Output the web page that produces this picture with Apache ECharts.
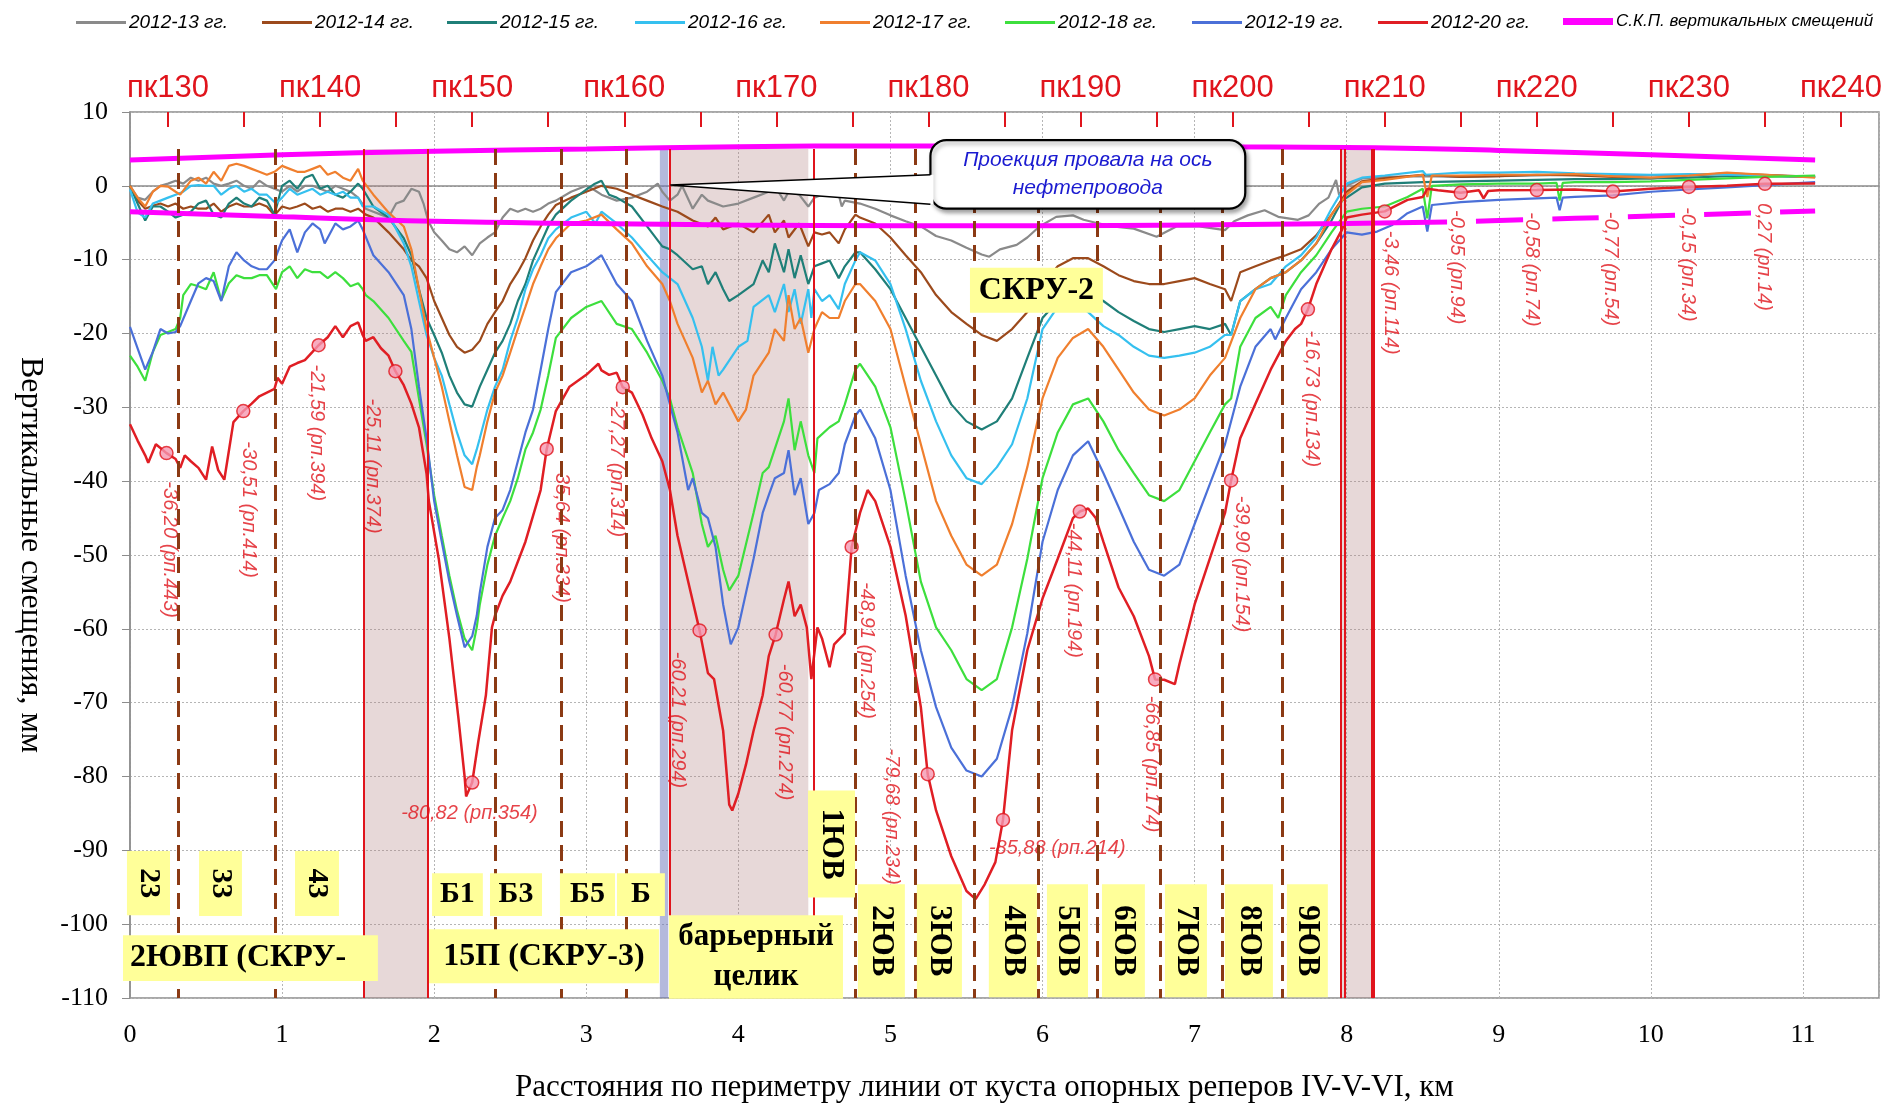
<!DOCTYPE html>
<html>
<head>
<meta charset="utf-8">
<script src="https://cdn.jsdelivr.net/npm/echarts@6/dist/echarts.min.js"></script>
<style>
  html, body { margin: 0; padding: 0; background: #ffffff; }
  #chart { width: 1896px; height: 1108px; }
</style>
</head>
<body>
<div id="chart"></div>
<script>
// ---------- survey data: distance along the line (km) / vertical displacement (mm) ----------
const s2013 = [[0,0],[0.05,-1.6],[0.1,-1.9],[0.15,-0.8],[0.2,0],[0.25,0.3],[0.3,0.7],[0.35,0.3],[0.4,1.1],[0.45,0.7],[0.5,1.1],[0.55,0.3],[0.6,0],[0.65,0.3],[0.7,0.7],[0.75,0],[0.8,-0.4],[0.85,0.7],[0.9,0],[0.95,-0.4],[1,-0.8],[1.05,0],[1.1,-0.8],[1.15,0],[1.2,0],[1.25,-0.4],[1.3,-0.8],[1.35,0],[1.4,-0.4],[1.45,-0.8],[1.5,-1.6],[1.55,-3.1],[1.6,-3.5],[1.65,-3.9],[1.7,-4.3],[1.75,-2.4],[1.8,-2],[1.85,-0.4],[1.9,-0.8],[1.93,-2.4],[1.96,-4.7],[2,-6.3],[2.05,-7.4],[2.1,-8.6],[2.15,-9],[2.2,-8.2],[2.25,-9.4],[2.3,-7.8],[2.35,-7],[2.4,-6.3],[2.45,-4.3],[2.5,-3.1],[2.55,-3.5],[2.6,-3.1],[2.65,-3.5],[2.7,-3.1],[2.75,-2.4],[2.8,-2],[2.9,-0.8],[3,0],[3.04,-0.4],[3.1,-1.2],[3.2,-2],[3.3,-1.6],[3.4,-0.8],[3.47,0.3],[3.5,-0.8],[3.55,-2],[3.6,-1.2],[3.63,0],[3.7,-3.1],[3.76,-1.2],[3.8,-2],[3.9,-2.8],[4,-2.4],[4.1,-1.6],[4.2,-0.8],[4.24,0],[4.3,-2],[4.33,-0.8],[4.4,-1.2],[4.46,-2.8],[4.5,-1.6],[4.6,-0.8],[4.66,-1.2],[4.68,-2.8],[4.7,-2],[4.8,-2.4],[4.9,-3.1],[5,-4],[5.1,-4.8],[5.2,-5.5],[5.3,-6.8],[5.4,-7.4],[5.5,-8.4],[5.6,-9.3],[5.65,-9.6],[5.72,-8.6],[5.83,-8],[5.9,-7],[5.98,-5.5],[6.09,-4.2],[6.2,-4],[6.27,-4.6],[6.35,-5],[6.46,-5.5],[6.6,-5.8],[6.75,-6.9],[6.88,-5.5],[7.03,-5.5],[7.2,-6],[7.26,-4.8],[7.35,-4],[7.46,-3.3],[7.55,-4.2],[7.68,-4.6],[7.75,-4],[7.82,-2.4],[7.88,-1.6],[7.93,0.8],[7.95,-1.2],[8,0],[8.1,1],[8.25,1.2],[8.5,1.3],[8.75,1.2],[9,1.3],[9.25,1.4],[9.5,1.5],[9.75,1.3],[10,1.4],[10.25,1.5],[10.5,1.6],[10.75,1.4],[11.08,1.2]];

const s2014 = [[0,0],[0.05,-2],[0.1,-3.1],[0.15,-2.7],[0.2,-2.4],[0.25,-2.8],[0.3,-2.4],[0.35,-3.1],[0.4,-2.8],[0.45,-3.1],[0.5,-3.1],[0.55,-2.4],[0.6,-3.5],[0.65,-2.8],[0.7,-2.4],[0.75,-2.8],[0.8,-2.8],[0.85,-2.4],[0.9,-2.8],[0.95,-4],[1,-2.8],[1.05,-3.1],[1.1,-2.8],[1.15,-2.4],[1.2,-3.1],[1.25,-2.8],[1.3,-3.5],[1.35,-3.1],[1.4,-3.1],[1.45,-3.5],[1.5,-3.1],[1.55,-3.9],[1.6,-4.3],[1.7,-6.3],[1.8,-8.6],[1.85,-10.1],[1.9,-10.9],[1.95,-12.5],[2,-15.6],[2.05,-17.9],[2.1,-20.2],[2.15,-21.8],[2.2,-22.6],[2.25,-22.2],[2.3,-21],[2.35,-18.7],[2.4,-17.1],[2.45,-15.6],[2.5,-13.3],[2.55,-11.7],[2.6,-9.8],[2.65,-7.4],[2.7,-5.5],[2.75,-3.9],[2.8,-2.6],[2.9,-1.6],[3,-0.8],[3.1,0],[3.2,-0.4],[3.3,-1.2],[3.4,-2],[3.5,-2.8],[3.6,-3.5],[3.7,-4.7],[3.8,-5.5],[3.85,-4.3],[3.9,-5.9],[4,-5.1],[4.1,-6.3],[4.2,-3.9],[4.24,-6.3],[4.3,-4.7],[4.33,-7],[4.4,-5.1],[4.46,-8.2],[4.5,-6.3],[4.55,-6.6],[4.6,-6.3],[4.66,-7.8],[4.7,-5.9],[4.77,-3.9],[4.8,-4.3],[4.9,-5.1],[5,-7],[5.1,-9.4],[5.2,-11.7],[5.3,-14.8],[5.4,-17.1],[5.5,-18.7],[5.6,-20.2],[5.7,-21],[5.8,-19.4],[5.9,-17.1],[6,-13.3],[6.1,-10.9],[6.2,-9.8],[6.3,-9.8],[6.4,-10.9],[6.5,-12.1],[6.6,-12.9],[6.7,-13.3],[6.8,-13.3],[6.9,-12.9],[7,-12.5],[7.1,-13.3],[7.2,-14],[7.24,-15.6],[7.3,-11.7],[7.4,-10.9],[7.5,-10.1],[7.6,-9.4],[7.7,-8.6],[7.8,-6.7],[7.9,-3.9],[7.95,-2.4],[8,-0.8],[8.1,0.6],[8.25,1],[8.5,1.5],[8.75,1.2],[9,1.3],[9.25,1.5],[9.5,1.4],[9.75,1.2],[10,1],[10.25,1.4],[10.5,1.7],[10.75,1.5],[11.08,1.2]];

const s2015 = [[0,0],[0.05,-2.4],[0.1,-4.7],[0.15,-2.8],[0.2,-2.8],[0.25,-3.5],[0.3,-4.3],[0.35,-3.9],[0.4,-3.5],[0.45,-2.4],[0.5,-2],[0.55,-3.9],[0.6,-4.3],[0.65,-2.4],[0.7,-1.6],[0.75,-2.4],[0.8,-2.8],[0.85,-1.6],[0.9,-2],[0.95,-3.9],[1,0],[1.05,0.7],[1.1,-0.4],[1.15,1.1],[1.2,1.5],[1.25,-0.4],[1.3,0],[1.35,-1.2],[1.4,-1.6],[1.45,-0.8],[1.5,0.3],[1.53,-0.4],[1.6,-2.8],[1.7,-4.3],[1.8,-7.1],[1.85,-9.4],[1.9,-14],[1.95,-17.9],[2,-20.2],[2.05,-22.6],[2.1,-25.7],[2.15,-28],[2.2,-29.6],[2.25,-29.9],[2.3,-27.2],[2.35,-24.9],[2.4,-22.6],[2.45,-21],[2.5,-18.7],[2.55,-15.6],[2.6,-13.3],[2.65,-10.1],[2.7,-7.8],[2.75,-5.5],[2.8,-3.9],[2.9,-2],[3,-0.5],[3.05,0.2],[3.1,0.7],[3.15,-1.2],[3.2,-1.6],[3.3,-2.8],[3.4,-5.5],[3.5,-8.2],[3.55,-8.6],[3.6,-9.4],[3.7,-11.3],[3.76,-10.9],[3.8,-13.3],[3.85,-11.7],[3.9,-14],[3.94,-15.6],[4,-14.8],[4.1,-13.3],[4.16,-10.1],[4.2,-11.7],[4.24,-7.8],[4.3,-11.7],[4.33,-8.6],[4.37,-12.5],[4.41,-9.4],[4.46,-13.3],[4.5,-10.9],[4.55,-10.5],[4.6,-10.1],[4.66,-12.5],[4.7,-10.9],[4.77,-9],[4.8,-9],[4.9,-11.3],[5,-14],[5.1,-17.9],[5.2,-21.8],[5.3,-25.7],[5.4,-29.6],[5.5,-31.9],[5.6,-33],[5.7,-31.9],[5.8,-28.8],[5.9,-23.3],[6,-17.9],[6.1,-15.6],[6.2,-14.8],[6.3,-14.4],[6.4,-15.6],[6.5,-17.1],[6.6,-18.3],[6.7,-19.4],[6.8,-19.8],[6.9,-19.4],[7,-19],[7.1,-19.4],[7.2,-18.7],[7.24,-20.2],[7.3,-15.6],[7.4,-14],[7.5,-12.5],[7.6,-11.7],[7.7,-10.1],[7.8,-7.8],[7.9,-4.7],[7.97,-2],[8,-1.6],[8.1,-0.2],[8.25,0.3],[8.5,0.5],[8.75,0.6],[9,0.7],[9.25,0.8],[9.5,0.9],[9.75,0.9],[10,1],[10.25,1.1],[10.5,1.3],[10.75,1.3],[11.08,1.2]];

const s2016 = [[0,-0.5],[0.05,-3.6],[0.1,-4.3],[0.15,-2.4],[0.2,-2],[0.25,-1.6],[0.3,-1.2],[0.35,-0.8],[0.4,0],[0.45,0.1],[0.5,0],[0.55,0],[0.6,-1.2],[0.65,-0.4],[0.7,0],[0.75,-0.8],[0.8,-0.4],[0.85,-1.2],[0.9,-1.2],[0.96,-2.4],[1,-1.6],[1.05,-0.4],[1.1,-1.2],[1.15,-0.8],[1.2,-0.4],[1.25,-1.2],[1.3,-0.8],[1.35,-1.2],[1.4,-0.8],[1.45,-1.6],[1.5,-1.6],[1.53,-2.8],[1.6,-2.8],[1.7,-3.9],[1.8,-7.8],[1.85,-10.9],[1.9,-15.6],[1.95,-20.2],[2,-23.3],[2.05,-25.7],[2.1,-29.6],[2.15,-33.4],[2.2,-36.5],[2.25,-37.7],[2.28,-35.7],[2.3,-34.2],[2.35,-30.3],[2.4,-27.2],[2.45,-24.9],[2.5,-21],[2.55,-17.9],[2.6,-14],[2.65,-11.3],[2.7,-9.4],[2.75,-7.1],[2.8,-5.9],[2.9,-4.3],[3,-3.5],[3.06,-5.1],[3.1,-3.5],[3.2,-5.1],[3.3,-7],[3.4,-9.4],[3.5,-11.7],[3.6,-13.3],[3.7,-17.9],[3.76,-21.8],[3.8,-26.4],[3.83,-21.8],[3.87,-25.7],[3.9,-24.9],[4,-21.8],[4.06,-21],[4.1,-16.4],[4.2,-14.8],[4.24,-17.1],[4.3,-13.3],[4.33,-17.1],[4.37,-14],[4.41,-18.7],[4.46,-14],[4.48,-17.9],[4.5,-14],[4.55,-15.6],[4.6,-14.8],[4.66,-16.7],[4.7,-13.3],[4.77,-10.1],[4.8,-9],[4.9,-10.1],[5,-13.3],[5.1,-19.4],[5.2,-26.4],[5.3,-31.9],[5.4,-36.5],[5.5,-39.6],[5.6,-40.4],[5.7,-38.1],[5.8,-35],[5.9,-28.8],[6,-19.4],[6.1,-16.4],[6.2,-15.6],[6.3,-17.1],[6.4,-19],[6.5,-20.2],[6.6,-21.8],[6.7,-23],[6.8,-23.3],[6.9,-23],[7,-22.6],[7.1,-21.8],[7.2,-20.2],[7.24,-20.2],[7.3,-15.6],[7.4,-14],[7.5,-13.3],[7.6,-10.9],[7.7,-9.4],[7.8,-7],[7.9,-3.1],[8,0.3],[8.1,1.1],[8.25,1.4],[8.5,2],[8.52,1.5],[8.75,1.8],[9,1.8],[9.25,1.9],[9.5,1.7],[9.75,1.6],[10,1.5],[10.25,1.6],[10.5,1.5],[10.75,1.4],[11.08,1.2]];

const s2017 = [[0,0],[0.05,-1.6],[0.1,-2.8],[0.15,-0.8],[0.2,0],[0.25,-0.1],[0.3,-0.8],[0.33,-1.2],[0.4,0.7],[0.45,1.1],[0.5,0.3],[0.55,1.9],[0.6,0.7],[0.65,2.7],[0.7,3],[0.75,2.7],[0.8,2.3],[0.85,1.9],[0.9,1.5],[0.95,1.9],[1,2.7],[1.05,2.3],[1.1,1.9],[1.15,1.9],[1.2,2.3],[1.25,2.7],[1.3,1.5],[1.35,1.9],[1.4,1.1],[1.45,0.7],[1.5,2.3],[1.53,0.7],[1.6,-1.2],[1.7,-3.6],[1.8,-5.5],[1.85,-8.6],[1.9,-14],[1.95,-19.4],[2,-23.3],[2.05,-27.2],[2.1,-31.9],[2.15,-36.5],[2.2,-40.8],[2.25,-41.2],[2.28,-38.1],[2.3,-36.5],[2.35,-31.9],[2.4,-28],[2.45,-25.7],[2.5,-22.6],[2.55,-19.4],[2.6,-16.4],[2.65,-13.3],[2.7,-10.9],[2.75,-8.6],[2.8,-7.1],[2.9,-5.1],[3,-4.7],[3.1,-3.9],[3.2,-5.9],[3.3,-7.8],[3.4,-10.9],[3.5,-13.3],[3.55,-15.6],[3.6,-18.7],[3.7,-23.3],[3.76,-28],[3.8,-26.4],[3.85,-29.6],[3.9,-28],[4,-31.9],[4.05,-30.3],[4.1,-25.7],[4.2,-22.6],[4.24,-19.4],[4.3,-21],[4.33,-14.8],[4.37,-19.4],[4.41,-17.9],[4.46,-22.6],[4.5,-19.4],[4.55,-17.1],[4.6,-17.9],[4.66,-17.9],[4.7,-15.6],[4.77,-13.3],[4.8,-13.3],[4.9,-15.6],[5,-19.4],[5.1,-27.2],[5.2,-35],[5.3,-42.7],[5.4,-47.4],[5.5,-51.3],[5.6,-52.8],[5.7,-51.3],[5.8,-45.8],[5.9,-38.1],[6,-28.8],[6.1,-23.3],[6.2,-20.6],[6.3,-19.4],[6.4,-21.8],[6.5,-24.9],[6.6,-28],[6.7,-30.3],[6.8,-31.1],[6.9,-30.3],[7,-28.8],[7.1,-25.7],[7.2,-23.3],[7.3,-17.9],[7.4,-14],[7.5,-12.5],[7.6,-11.7],[7.7,-10.1],[7.8,-7.8],[7.9,-3.9],[8,-1.2],[8.1,0.5],[8.25,0.8],[8.5,1.5],[8.53,-1.5],[8.56,1.4],[8.75,1.4],[9,1.5],[9.25,1.5],[9.5,1.6],[9.75,1.3],[10,1.1],[10.25,1.4],[10.5,1.8],[10.75,1.5],[11.08,1.1]];

const s2018 = [[0,-23],[0.05,-24.5],[0.1,-26.4],[0.15,-22.5],[0.2,-20.2],[0.25,-19.8],[0.3,-19.4],[0.33,-17.9],[0.35,-14.8],[0.4,-13.3],[0.45,-13.6],[0.5,-14],[0.55,-11.7],[0.6,-15.5],[0.65,-13.2],[0.7,-12.1],[0.75,-12.5],[0.8,-12.5],[0.85,-12.1],[0.9,-12.1],[0.96,-14],[1,-11.7],[1.05,-10.9],[1.1,-12.5],[1.15,-11.3],[1.2,-11.7],[1.25,-11.7],[1.3,-12.5],[1.35,-11.7],[1.4,-12.5],[1.45,-13.6],[1.5,-13.2],[1.53,-14],[1.55,-14.8],[1.6,-15.6],[1.7,-17.9],[1.8,-21],[1.85,-22.5],[1.9,-28.8],[1.95,-35],[2,-41.9],[2.05,-47.4],[2.1,-52.8],[2.15,-57.5],[2.2,-61.3],[2.25,-62.9],[2.28,-59.8],[2.3,-56.7],[2.35,-51.3],[2.4,-47.4],[2.45,-45],[2.5,-42.7],[2.55,-39.6],[2.6,-35.7],[2.65,-33.4],[2.7,-30.3],[2.75,-25.7],[2.8,-20.6],[2.9,-17.9],[3,-16.4],[3.1,-15.6],[3.2,-18.7],[3.3,-19.4],[3.4,-22.6],[3.5,-26.4],[3.55,-28.8],[3.6,-32.7],[3.7,-38.9],[3.76,-45.8],[3.8,-48.9],[3.85,-47.4],[3.9,-52],[3.94,-54.8],[4,-52.8],[4.1,-44.3],[4.16,-38.9],[4.2,-38.1],[4.3,-31.9],[4.33,-28.8],[4.37,-35.8],[4.41,-31.9],[4.46,-36.5],[4.5,-38.9],[4.52,-34.2],[4.6,-32.7],[4.66,-31.9],[4.7,-29.6],[4.77,-24.9],[4.8,-24.1],[4.9,-27.2],[5,-32.7],[5.1,-42.7],[5.2,-53.6],[5.3,-59.8],[5.4,-62.9],[5.5,-66.8],[5.6,-68.3],[5.7,-66.8],[5.8,-59.8],[5.9,-50.5],[6,-39.6],[6.1,-33.4],[6.2,-29.6],[6.3,-28.8],[6.4,-31.9],[6.5,-35.8],[6.6,-38.9],[6.7,-41.9],[6.8,-42.7],[6.9,-41.2],[7,-37.3],[7.1,-33.4],[7.2,-29.6],[7.24,-28.8],[7.3,-21.8],[7.4,-17.9],[7.5,-16.4],[7.55,-17.9],[7.6,-14.8],[7.7,-11.7],[7.8,-9.4],[7.9,-6.3],[8,-3.5],[8.1,-3.1],[8.25,-2.8],[8.4,-1.5],[8.5,-0.4],[8.53,-4.4],[8.56,0],[8.75,0.2],[9,0.3],[9.25,0.3],[9.38,0.4],[9.4,-2],[9.42,0.4],[9.5,0.5],[9.75,0.5],[10,0.6],[10.25,0.8],[10.5,1],[10.75,1.2],[11.08,1.4]];

const s2019 = [[0,-19.1],[0.05,-22],[0.1,-24.9],[0.15,-22.5],[0.2,-19.4],[0.25,-20],[0.3,-19.8],[0.33,-19],[0.4,-15.6],[0.45,-13.2],[0.5,-12.5],[0.55,-12.9],[0.6,-15.6],[0.65,-10.9],[0.7,-9],[0.75,-10.1],[0.8,-10.9],[0.85,-11.3],[0.9,-11.3],[0.95,-10.1],[1,-7.4],[1.05,-5.9],[1.1,-9],[1.15,-6.3],[1.2,-5.1],[1.25,-5.9],[1.28,-7.8],[1.35,-5.1],[1.4,-5.9],[1.45,-5.5],[1.5,-4.7],[1.53,-5.9],[1.6,-9.4],[1.7,-11.7],[1.8,-14.8],[1.85,-19.4],[1.9,-27.2],[1.95,-34.2],[2,-42.7],[2.05,-48.2],[2.1,-53.6],[2.15,-58.2],[2.2,-62.5],[2.25,-61],[2.28,-58.2],[2.3,-55.1],[2.35,-48.9],[2.4,-45],[2.45,-43.9],[2.5,-41.2],[2.55,-37.3],[2.6,-33.4],[2.65,-30.3],[2.7,-24.9],[2.75,-19.4],[2.8,-14.4],[2.9,-11.7],[3,-10.9],[3.1,-9.4],[3.2,-13.3],[3.3,-15.6],[3.4,-21],[3.5,-25.7],[3.55,-29.6],[3.6,-33.4],[3.67,-41.2],[3.7,-39.6],[3.76,-44.3],[3.8,-45],[3.85,-48.9],[3.9,-56.7],[3.95,-62.1],[4,-59.8],[4.1,-50.5],[4.16,-44.3],[4.2,-41.9],[4.24,-39.6],[4.3,-38.9],[4.33,-35.8],[4.37,-41.9],[4.41,-39.6],[4.46,-45.8],[4.5,-44.3],[4.53,-41.2],[4.6,-40.4],[4.66,-38.9],[4.7,-35],[4.77,-31.1],[4.8,-30.3],[4.9,-34.2],[5,-41.2],[5.1,-52.8],[5.2,-62.9],[5.3,-70.6],[5.4,-76.1],[5.5,-79.2],[5.6,-80],[5.7,-77.6],[5.8,-70.6],[5.9,-60.6],[6,-48.2],[6.1,-41.2],[6.2,-36.5],[6.3,-34.6],[6.4,-38.9],[6.5,-43.5],[6.6,-48.2],[6.7,-52],[6.8,-52.8],[6.9,-51.3],[7,-45.8],[7.1,-40.4],[7.2,-35],[7.3,-27.2],[7.4,-21.8],[7.5,-19.4],[7.53,-20.8],[7.6,-17.9],[7.7,-14],[7.8,-11.7],[7.9,-8.6],[8,-6.3],[8.1,-6.6],[8.2,-6.2],[8.3,-5.3],[8.4,-3.7],[8.5,-2.8],[8.53,-6.2],[8.56,-2.6],[8.75,-2.2],[9,-1.9],[9.25,-1.7],[9.38,-1.6],[9.4,-3.3],[9.42,-1.6],[9.5,-1.5],[9.75,-1.3],[10,-0.8],[10.25,-0.5],[10.5,-0.2],[10.75,0.1],[11.08,0.5]];

const s2020 = [[0,-32.3],[0.05,-34.5],[0.1,-36.5],[0.12,-37.5],[0.17,-35],[0.2,-35.5],[0.24,-36.2],[0.3,-37],[0.33,-38.2],[0.36,-36.5],[0.4,-37.3],[0.45,-38.2],[0.5,-39.8],[0.54,-35.3],[0.58,-38.5],[0.62,-39.8],[0.68,-32],[0.745,-30.51],[0.8,-29.5],[0.85,-28.5],[0.9,-28],[0.95,-27.5],[0.97,-26],[1,-26.8],[1.05,-24.5],[1.1,-24],[1.15,-23.6],[1.2,-22.5],[1.24,-21.59],[1.3,-20.5],[1.35,-19],[1.4,-20.5],[1.45,-19],[1.5,-18.5],[1.53,-20.2],[1.55,-21],[1.6,-20.5],[1.65,-22],[1.7,-23],[1.745,-25.11],[1.8,-27],[1.85,-29.5],[1.9,-32.7],[1.95,-39],[1.965,-42.7],[2.03,-50.5],[2.1,-61.3],[2.16,-72.2],[2.2,-80],[2.21,-82.7],[2.25,-80.82],[2.29,-75.3],[2.34,-69],[2.38,-59.8],[2.4,-58.2],[2.45,-55.5],[2.5,-53.6],[2.6,-48.2],[2.7,-41.2],[2.74,-35.64],[2.8,-30.5],[2.89,-27.2],[3,-25.6],[3.08,-24.1],[3.1,-25],[3.15,-25.6],[3.2,-25.3],[3.24,-27.27],[3.3,-28],[3.37,-31],[3.43,-34.2],[3.5,-37.3],[3.55,-41.2],[3.6,-47.4],[3.67,-53.6],[3.745,-60.21],[3.8,-66],[3.84,-66.8],[3.9,-73.8],[3.94,-83.8],[3.96,-84.6],[4,-82.3],[4.05,-78.4],[4.1,-73.8],[4.16,-69],[4.2,-63.7],[4.245,-60.77],[4.3,-56],[4.33,-53.6],[4.37,-58.3],[4.41,-56.7],[4.45,-59.8],[4.48,-66.8],[4.49,-65],[4.52,-59.8],[4.55,-61.3],[4.6,-65.2],[4.63,-62.1],[4.7,-60.6],[4.745,-48.91],[4.8,-44.3],[4.85,-41.2],[4.9,-42.7],[5,-48.9],[5.1,-58.2],[5.2,-70.6],[5.245,-79.68],[5.3,-84.6],[5.4,-90.8],[5.5,-95.5],[5.56,-96.6],[5.62,-94.6],[5.69,-91.6],[5.74,-85.88],[5.8,-73.7],[5.9,-62.9],[6,-55.9],[6.1,-50.5],[6.2,-45],[6.245,-44.11],[6.3,-43.7],[6.35,-45],[6.4,-48.2],[6.5,-54.4],[6.6,-58.3],[6.7,-63.7],[6.74,-66.85],[6.8,-66.9],[6.87,-67.5],[6.9,-64.8],[7,-56.7],[7.1,-50.5],[7.2,-44.3],[7.24,-39.9],[7.3,-34.2],[7.4,-29.5],[7.5,-24.9],[7.6,-21],[7.66,-19.4],[7.7,-18.7],[7.745,-16.73],[7.8,-13.3],[7.9,-8.6],[7.97,-5.9],[8,-4.3],[8.1,-3.9],[8.25,-3.46],[8.4,-1.9],[8.5,-1.5],[8.53,-0.4],[8.6,-0.6],[8.75,-0.95],[8.87,-0.6],[8.9,-1.7],[8.93,-0.7],[9,-0.6],[9.25,-0.58],[9.5,-0.5],[9.75,-0.77],[10,-0.4],[10.25,-0.15],[10.5,0],[10.75,0.27],[11.08,0.3]];

// standard error band of vertical displacements (upper / lower bounds)
const skpUpper = [[0,3.5],[1,4.2],[2,4.7],[3,5],[4,5.3],[5,5.4],[6,5.4],[7,5.3],[8,5.2],[9,4.8],[10,4.2],[11.08,3.5]];
const skpLowerSolid = [[0,-3.5],[1,-4.2],[2,-4.8],[3,-5.1],[4,-5.3],[5,-5.4],[6,-5.4],[7,-5.3],[8,-5.1],[8.66,-4.9]];
const skpLowerDashed = [[8.66,-4.9],[9,-4.7],[10,-4.1],[11.08,-3.4]];

// benchmarks on the 2012-20 profile
const benchX = [0.24,0.745,1.24,1.745,2.25,2.74,3.24,3.745,4.245,4.745,5.245,5.74,6.245,6.74,7.24,7.745,8.25,8.75,9.25,9.75,10.25,10.75];
const benchVal = [-36.20,-30.51,-21.59,-25.11,-80.82,-35.64,-27.27,-60.21,-60.77,-48.91,-79.68,-85.88,-44.11,-66.85,-39.90,-16.73,-3.46,-0.95,-0.58,-0.77,-0.15,0.27];
const benchNo = [443,414,394,374,354,334,314,294,274,254,234,214,194,174,154,134,114,94,74,54,34,14];

// picket scale along the top edge
const pkTicks = [130,135,140,145,150,155,160,165,170,175,180,185,190,195,200,205,210,215,220,225,230,235,240];
const pkLabels = [130,140,150,160,170,180,190,200,210,220,230,240];
const kmLabels = [0,1,2,3,4,5,6,7,8,9,10,11];

const yearNames = ['2012-13 гг.','2012-14 гг.','2012-15 гг.','2012-16 гг.','2012-17 гг.','2012-18 гг.','2012-19 гг.','2012-20 гг.'];
const skpName = 'С.К.П. вертикальных смещений';

// ---------- layout & styling ----------
const yearSeries = [s2013, s2014, s2015, s2016, s2017, s2018, s2019, s2020];
const yearColors = ['#8a8a8a','#9c4a1c','#1f7f78','#35c0ef','#f07f2e','#3ddf3d','#4b70d8','#e01e24'];
const legendLeft = [71, 257, 442, 630, 815, 1000, 1187, 1373, 1558];

// label offsets around each benchmark marker: [dx, dy, rotated]
const benchLabelShift = [[4,29,1],[6,31,1],[-1,20,1],[-22,28,1],[-2,32,0],[16,18,1],[-5,14,1],[-21,22,1],[10,30,1],[16,36,1],[-35,-25,1],[55,29,0],[-5,12,1],[-3,17,1],[11,16,1],[4,22,1],[7,20,1],[-3,18,1],[-4,23,1],[-2,21,1],[-1,21,1],[-1,20,1]];

// mine workings / zones along the route
const shadeSpans = [[1.534,1.961],[3.55,4.46],[7.962,8.17]];
const blueSpan = [[3.484,3.539]];
const redLinesX = [1.534,1.961,3.55,4.497,7.962,7.984,8.164,8.175];
const dashLinesX = [0.318,0.953,2.40,2.838,3.261,4.767,5.161,5.551,5.972,6.362,6.772,7.181,7.578];

const boxes = [
  {t:'23', x0:-0.02, x1:0.263, y0:-90.1, y1:-98.8, v:true, fs:30},
  {t:'33', x0:0.454, x1:0.736, y0:-90.1, y1:-98.9, v:true, fs:30},
  {t:'43', x0:1.085, x1:1.374, y0:-90.1, y1:-98.9, v:true, fs:30},
  {t:'2ЮВП (СКРУ-', x0:-0.046, x1:1.63, y0:-101.5, y1:-107.7, left:true, fs:32},
  {t:'Б1', x0:1.986, x1:2.32, y0:-93.1, y1:-98.9, fs:30},
  {t:'Б3', x0:2.367, x1:2.709, y0:-93.1, y1:-98.9, fs:30},
  {t:'Б5', x0:2.827, x1:3.189, y0:-93.1, y1:-98.9, fs:30},
  {t:'Б', x0:3.202, x1:3.517, y0:-93.1, y1:-98.9, fs:30},
  {t:'15П (СКРУ-3)', x0:1.966, x1:3.478, y0:-100.7, y1:-108.0, fs:32},
  {t:'барьерный\nцелик', x0:3.544, x1:4.688, y0:-98.8, y1:-110.1, fs:31, lh:40},
  {t:'1ЮВ', x0:4.458, x1:4.767, y0:-81.9, y1:-96.4, v:true, fs:31},
  {t:'2ЮВ', x0:4.786, x1:5.095, y0:-94.6, y1:-109.9, v:true, fs:31},
  {t:'3ЮВ', x0:5.174, x1:5.47, y0:-94.6, y1:-109.9, v:true, fs:31},
  {t:'4ЮВ', x0:5.647, x1:5.963, y0:-94.6, y1:-109.9, v:true, fs:31},
  {t:'5ЮВ', x0:6.029, x1:6.299, y0:-94.6, y1:-109.9, v:true, fs:31},
  {t:'6ЮВ', x0:6.391, x1:6.673, y0:-94.6, y1:-109.9, v:true, fs:31},
  {t:'7ЮВ', x0:6.805, x1:7.081, y0:-94.6, y1:-109.9, v:true, fs:31},
  {t:'8ЮВ', x0:7.199, x1:7.515, y0:-94.6, y1:-109.9, v:true, fs:31},
  {t:'9ЮВ', x0:7.607, x1:7.876, y0:-94.6, y1:-109.9, v:true, fs:31},
  {t:'СКРУ-2', x0:5.523, x1:6.397, y0:-11.1, y1:-17.2, fs:32}
];

const callout = {x0:5.263, x1:7.333, y0:6.2, y1:-3.1, tipX:3.553, tipY:0.1, wTop:1.5, wBot:-2.5,
  text:'Проекция провала на ось\nнефтепровода'};

const RED = '#e0141c';
const SANS = '"Liberation Sans", Arial, sans-serif';
const SERIF = '"Liberation Serif", "Times New Roman", serif';

const fmt = v => v.toFixed(2).replace('.', ',');

const series = [];

// background zones and boundary lines
series.push({
  type: 'line', data: [], z: 1, silent: true, xAxisIndex: 0, yAxisIndex: 0,
  markArea: {
    silent: true,
    itemStyle: { color: 'rgba(175,125,125,0.30)' },
    data: shadeSpans.map(([a, b]) => [{ coord: [a, 5] }, { coord: [b, -110] }])
  }
});
series.push({
  type: 'line', data: [], z: 1, silent: true,
  markArea: {
    silent: true,
    itemStyle: { color: 'rgba(105,115,185,0.50)' },
    data: blueSpan.map(([a, b]) => [{ coord: [a, 5] }, { coord: [b, -110] }])
  }
});
series.push({
  type: 'line', data: [], z: 1, silent: true,
  markLine: {
    silent: true, symbol: ['none', 'none'], label: { show: false },
    lineStyle: { color: '#8b3a14', width: 3, type: [16, 8] },
    data: dashLinesX.map(x => [{ coord: [x, 5] }, { coord: [x, -110] }])
  }
});
series.push({
  type: 'line', data: [], z: 1, silent: true,
  markLine: {
    silent: true, symbol: ['none', 'none'], label: { show: false },
    lineStyle: { color: RED, width: 2, type: 'solid' },
    data: redLinesX.map(x => [{ coord: [x, 5] }, { coord: [x, -110] }])
  }
});

// yearly profiles
yearSeries.forEach((d, i) => {
  series.push({
    name: yearNames[i], type: 'line', data: d, showSymbol: false, symbol: 'none',
    z: 3, lineStyle: { color: yearColors[i], width: i === 7 ? 2.5 : 2.2 },
    itemStyle: { color: yearColors[i] }
  });
});

// error band
[skpUpper, skpLowerSolid].forEach(d => series.push({
  name: skpName, type: 'line', data: d, smooth: true, showSymbol: false, symbol: 'none', z: 3,
  lineStyle: { color: '#ff00ff', width: 5 }, itemStyle: { color: '#ff00ff' }
}));
series.push({
  name: skpName, type: 'line', data: skpLowerDashed, smooth: true, showSymbol: false, symbol: 'none', z: 3,
  lineStyle: { color: '#ff00ff', width: 5, type: [47, 29], dashOffset: 47 }, itemStyle: { color: '#ff00ff' }
});

// benchmarks with value labels
series.push({
  name: 'рп', type: 'scatter', z: 4, symbolSize: 13,
  itemStyle: { color: '#f597b0', borderColor: '#e0141c', borderWidth: 1.5 },
  data: benchX.map((x, i) => {
    const [dx, dy, rot] = benchLabelShift[i];
    return {
      value: [x, benchVal[i]],
      label: {
        show: true,
        formatter: fmt(benchVal[i]) + ' (рп.' + benchNo[i] + ')',
        position: [6.5 + dx, 6.5 + dy],
        rotate: rot ? -90 : 0,
        align: rot ? 'left' : 'center',
        verticalAlign: 'middle',
        color: RED, fontFamily: SANS, fontStyle: 'italic', fontSize: 20
      }
    };
  })
});

// yellow annotation boxes
series.push({
  type: 'custom', z: 6, silent: true, clip: false,
  data: boxes.map(b => [b.x0, b.y0, b.x1, b.y1]),
  encode: { x: [0, 2], y: [1, 3] },
  renderItem(params, api) {
    const b = boxes[params.dataIndex];
    const p0 = api.coord([b.x0, b.y0]);
    const p1 = api.coord([b.x1, b.y1]);
    const x = Math.min(p0[0], p1[0]), y = Math.min(p0[1], p1[1]);
    const w = Math.abs(p1[0] - p0[0]), h = Math.abs(p1[1] - p0[1]);
    return {
      type: 'group',
      children: [
        { type: 'rect', shape: { x, y, width: w, height: h }, style: { fill: '#ffff99' } },
        {
          type: 'text', x: b.left ? x + 7 : x + w / 2, y: y + h / 2,
          rotation: b.v ? -Math.PI / 2 : 0,
          style: {
            text: b.t, fill: '#000', font: 'bold ' + b.fs + 'px ' + SERIF,
            align: b.left ? 'left' : 'center', verticalAlign: 'middle', lineHeight: b.lh || b.fs
          }
        }
      ]
    };
  }
});

// sinkhole projection callout
series.push({
  type: 'custom', z: 7, silent: true, clip: false,
  data: [[callout.x0, callout.y0, callout.x1, callout.y1]],
  encode: { x: [0, 2], y: [1, 3] },
  renderItem(params, api) {
    const c = callout;
    const tl = api.coord([c.x0, c.y0]), br = api.coord([c.x1, c.y1]);
    const tip = api.coord([c.tipX, c.tipY]);
    const a1 = api.coord([c.x0, c.wTop]), a2 = api.coord([c.x0, c.wBot]);
    return {
      type: 'group',
      children: [
        {
          type: 'rect',
          shape: { x: tl[0], y: tl[1], width: br[0] - tl[0], height: br[1] - tl[1], r: 16 },
          style: { fill: '#fff', stroke: '#000', lineWidth: 2.2, shadowBlur: 4, shadowOffsetX: 2, shadowOffsetY: 3, shadowColor: 'rgba(0,0,0,0.35)' }
        },
        { type: 'polygon', shape: { points: [tip, [a1[0] + 3, a1[1]], [a2[0] + 3, a2[1]]] }, style: { fill: '#fff' } },
        { type: 'polyline', shape: { points: [a1, tip, a2] }, style: { stroke: '#000', lineWidth: 1.5, fill: null } },
        {
          type: 'text', x: (tl[0] + br[0]) / 2, y: (tl[1] + br[1]) / 2,
          style: {
            text: c.text, fill: '#1a1ad0', font: 'italic 21px ' + SANS,
            align: 'center', verticalAlign: 'middle', lineHeight: 28
          }
        }
      ]
    };
  }
});

const legendNames = yearNames.concat([skpName]);
const legends = legendNames.map((n, i) => ({
  data: [n], left: legendLeft[i], top: 8, orient: 'horizontal',
  icon: 'rect', itemWidth: 50, itemHeight: i === 8 ? 7 : 3, itemGap: 0,
  selectedMode: false,
  textStyle: { fontFamily: SANS, fontStyle: 'italic', fontSize: i === 8 ? 17 : 19, color: '#000', padding: [0, 0, 0, -2] }
}));

const gridLine = { show: true, lineStyle: { color: '#b5b5b5', width: 1, type: [2, 2] } };

const option = {
  animation: false,
  backgroundColor: '#ffffff',
  legend: legends,
  grid: { left: 130, right: 17, top: 112, bottom: 108, show: true, borderColor: '#8c8c8c', borderWidth: 1.5, containLabel: false },
  xAxis: [
    {
      type: 'value', min: 0, max: 11.5, interval: 1, position: 'bottom',
      name: 'Расстояния по периметру линии от куста опорных реперов IV-V-VI, км',
      nameLocation: 'middle', nameGap: 74,
      nameTextStyle: { fontFamily: SERIF, fontSize: 31, color: '#000', padding: [0, 40, 0, 0] },
      axisLine: { show: true, lineStyle: { color: '#8c8c8c', width: 1.5 } },
      axisTick: { show: false },
      axisLabel: { customValues: kmLabels, fontFamily: SERIF, fontSize: 26, color: '#000', margin: 24 },
      splitLine: gridLine
    },
    {
      type: 'value', min: 127.5, max: 242.5, position: 'top',
      axisLine: { show: false },
      axisTick: { show: true, inside: true, length: 15, customValues: pkTicks, lineStyle: { color: RED, width: 2 } },
      axisLabel: { customValues: pkLabels, formatter: v => 'пк' + v, color: RED, fontFamily: SANS, fontSize: 31, margin: 8 },
      splitLine: { show: false }
    }
  ],
  yAxis: {
    type: 'value', min: -110, max: 10, interval: 10,
    name: 'Вертикальные смещения, мм', nameLocation: 'middle', nameGap: 84, nameRotate: -90,
    nameTextStyle: { fontFamily: SERIF, fontSize: 32, color: '#000' },
    axisLine: { show: true, lineStyle: { color: '#8c8c8c', width: 1.5 } },
    axisTick: { show: true, inside: false, length: 8, lineStyle: { color: '#8c8c8c' } },
    axisLabel: { fontFamily: SERIF, fontSize: 26, color: '#000', margin: 22 },
    splitLine: gridLine
  },
  series
};

const chart = echarts.init(document.getElementById('chart'), null, { renderer: 'canvas' });
chart.setOption(option);
</script>
</body>
</html>
